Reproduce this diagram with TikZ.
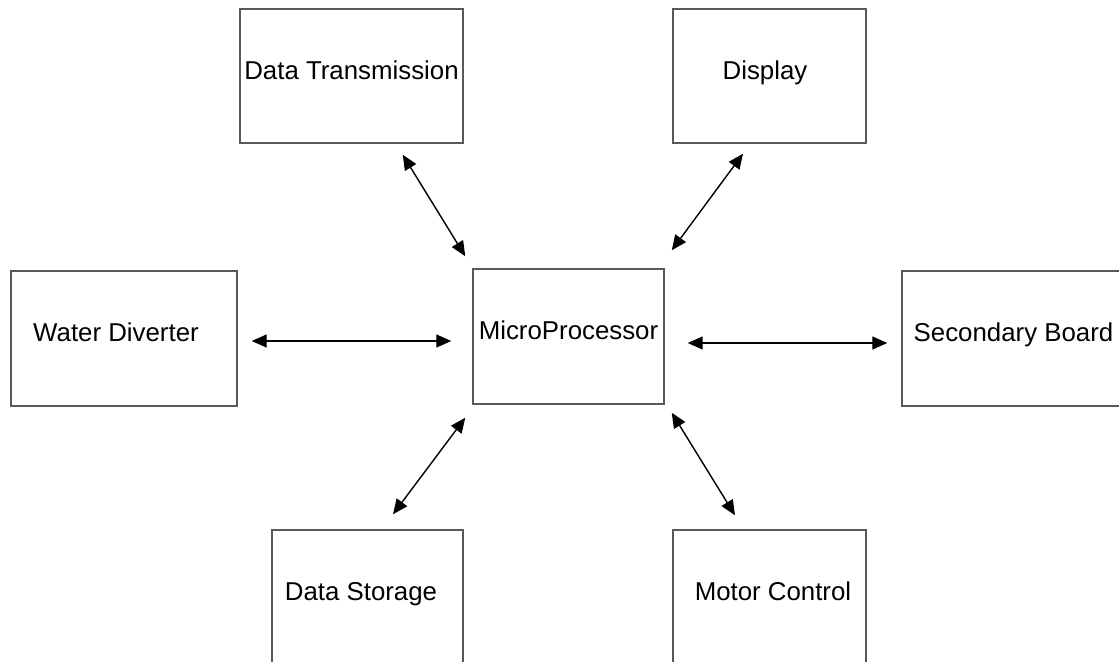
\documentclass[tikz,border=0pt]{standalone}
\usepackage{fontspec}
\setmainfont{Liberation Sans}
\usetikzlibrary{arrows.meta,calc}

\begin{document}
\begin{tikzpicture}[x=0.02cm,y=-0.02cm,>={Triangle[length=0.3cm,width=0.26cm]},
  block/.style={draw=black!65,line width=0.85pt,inner sep=0pt,text height=0.37cm,text depth=0.24cm,
    minimum height=2.7cm,font=\fontsize{14.7}{17}\selectfont},
  link/.style={<->,line width=0.8pt}]
\useasboundingbox (0,0) rectangle (1119,662);
\clip (0,0) rectangle (1119,662);
% the boxes
\node[block,minimum width=4.46cm,minimum height=2.68cm] (dt) at (351.5,76) {Data Transmission};
\node[block,minimum width=3.86cm,minimum height=2.68cm] (disp) at (769.5,76) {Display\hspace*{0.18cm}};
\node[block,minimum width=4.52cm] (wd) at (124,338.5) {Water Diverter\hspace*{0.32cm}};
\node[block,minimum width=3.82cm] (mp) at (568.5,336.5) {MicroProcessor};
\node[block,minimum width=4.46cm] (sb) at (1013.5,338.5) {Secondary Board};
\node[block,minimum width=3.82cm] (ds) at (367.5,597.5) {Data Storage\hspace*{0.26cm}};
\node[block,minimum width=3.86cm] (mc) at (769.5,597.5) {\hspace*{0.14cm}Motor Control};
% links to the processor
\draw[link] ($(dt.south east)+(-61,11)$)--($(mp.north west)+(-7,-12)$);
\draw[link] ($(disp.south)+(-26.5,10)$)--($(mp.north east)+(7,-18)$);
\draw[link] ($(wd.east)+(14,2.5)$)--($(mp.west)+(-21,4.5)$);
\draw[link] ($(mp.east)+(23,6.5)$)--($(sb.west)+(-14,4.5)$);
\draw[link] ($(mp.south west)+(-7,13)$)--($(ds.north)+(25.5,-15)$);
\draw[link] ($(mp.south east)+(7,8)$)--($(mc.north)+(-34.5,-14)$);
\end{tikzpicture}
\end{document}
